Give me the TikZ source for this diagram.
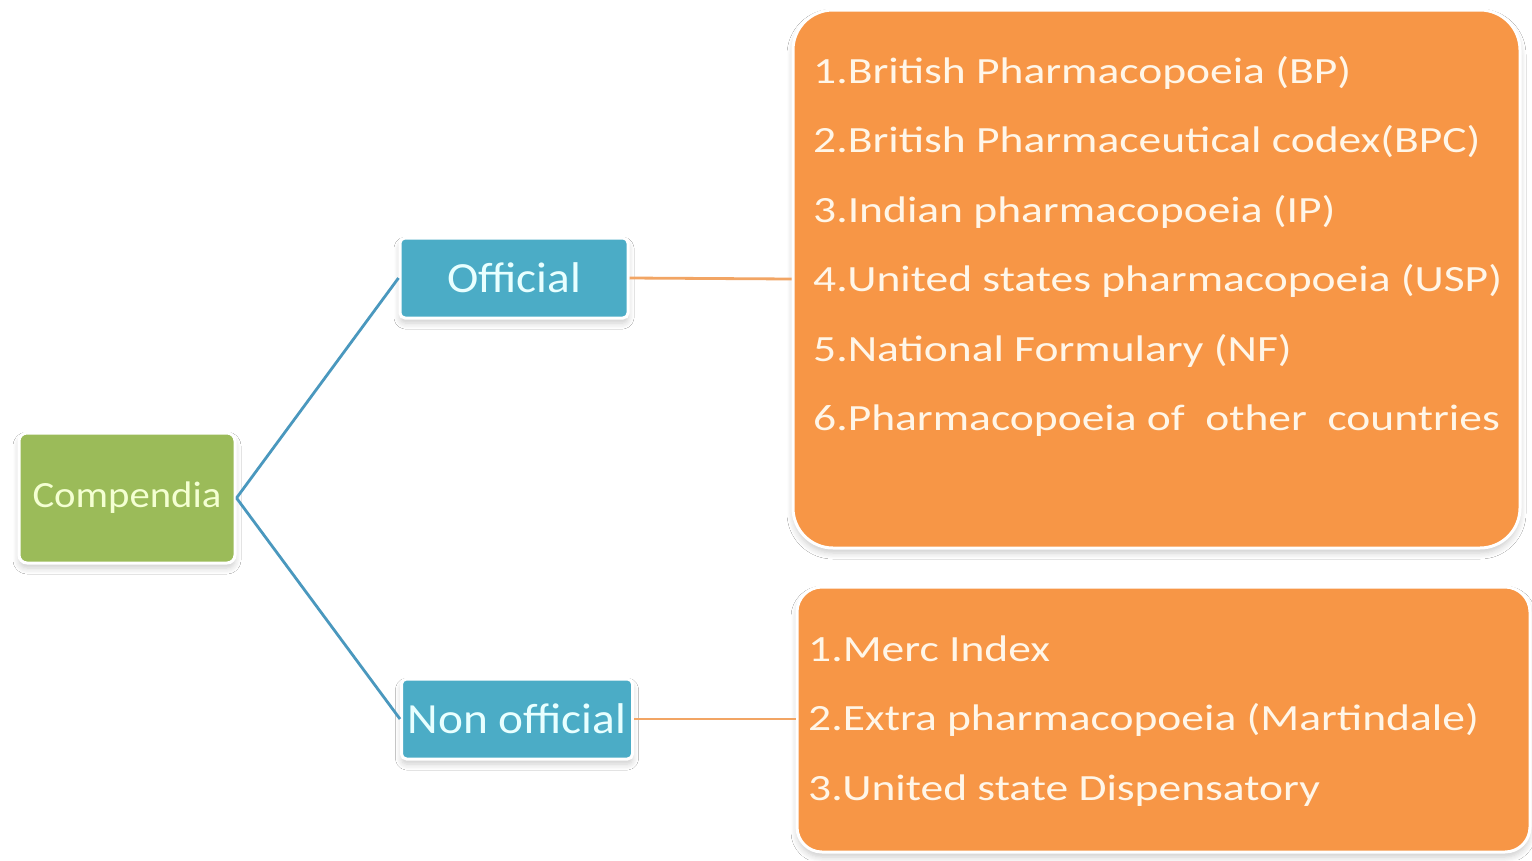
\documentclass[tikz,border=0pt]{standalone}
\usepackage{fontspec}
\setmainfont{Carlito}
\newfontfamily\listfont[FakeStretch=1.23]{Carlito}
\newfontfamily\boxfont[FakeStretch=1.1]{Carlito}
\usetikzlibrary{shadows.blur}
\definecolor{cgreen}{HTML}{9BBB59}
\definecolor{cblue}{HTML}{4BACC6}
\definecolor{corange}{HTML}{F79646}
\definecolor{cline}{HTML}{4A98BE}
\definecolor{coline}{HTML}{F2A564}
\definecolor{tgreen}{HTML}{F4FFD2}
\definecolor{tblue}{HTML}{E8FFFF}
\definecolor{torange}{HTML}{FFF6E8}
\tikzset{
  boxshadow/.style={blur shadow={shadow xshift=0pt, shadow yshift=-5pt, shadow blur steps=6, shadow opacity=20, shadow blur radius=6pt}},
  catbox/.style={draw=white, line width=3pt, boxshadow, inner sep=0pt},
  listbox/.style={draw=white, line width=3pt, fill=corange, boxshadow, inner sep=0pt},
  listtxt/.style={anchor=base west, inner sep=0pt, text=torange, font={\listfont\fontsize{37}{44}\selectfont}},
  bluelink/.style={draw=cline, line width=2.8pt},
  orangelink/.style={draw=coline, line width=2.8pt},
}
\begin{document}
\begin{tikzpicture}[x=1pt, y=-1pt]
\useasboundingbox[fill=white] (0,0) rectangle (1532,860);
% boxes
\node[catbox, fill=cgreen, rounded corners=8pt, minimum width=216pt, minimum height=130pt,
      text=tgreen, font={\boxfont\fontsize{37}{44}\selectfont}] (comp) at (127,498) {Compendia};
\node[catbox, fill=cblue, rounded corners=5pt, minimum width=228pt, minimum height=80pt,
      text=tblue, font={\boxfont\fontsize{43}{50}\selectfont}] (off) at (514,278) {Official};
\node[catbox, fill=cblue, rounded corners=5pt, minimum width=231pt, minimum height=80pt,
      text=tblue, font={\boxfont\fontsize{43}{50}\selectfont}] (non) at (517,719) {Non official};
\node[listbox, rounded corners=40pt, minimum width=727pt, minimum height=538pt] (top) at (1156.5,279) {};
\node[listbox, rounded corners=25pt, minimum width=733pt, minimum height=265pt] (bot) at (1163.5,719.5) {};
% list texts
\node[listtxt] (t1) at (813,83) {1.British Pharmacopoeia (BP)};
\node[listtxt] (t2) at (813,152) {2.British Pharmaceutical codex(BPC)};
\node[listtxt] (t3) at (813,222) {3.Indian pharmacopoeia (IP)};
\node[listtxt] (t4) at (813,291) {4.United states pharmacopoeia (USP)};
\node[listtxt] (t5) at (813,361) {5.National Formulary (NF)};
\node[listtxt] (t6) at (813,430) {6.Pharmacopoeia of\ \ other\ \ countries};
\node[listtxt] (b1) at (808,661) {1.Merc Index};
\node[listtxt] (b2) at (808,730) {2.Extra pharmacopoeia (Martindale)};
\node[listtxt] (b3) at (808,800) {3.United state Dispensatory};
% connectors
\draw[bluelink] (comp.east) -- (off.west);
\draw[bluelink] (comp.east) -- (non.west);
\draw[orangelink] (off.east) -- (top.west);
\draw[orangelink] (non.east) -- (bot.west |- non.east);
\end{tikzpicture}
\end{document}
